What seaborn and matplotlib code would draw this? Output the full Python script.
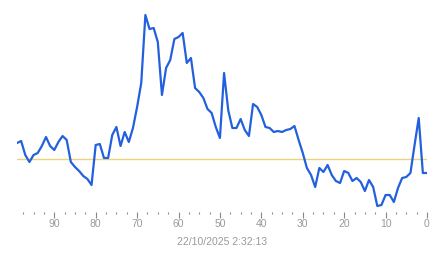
import matplotlib
matplotlib.use("Agg")
import matplotlib.pyplot as plt
import seaborn as sns
import pandas as pd
from matplotlib.ticker import MultipleLocator

# seconds ago (x) and measured value (y)
seconds_ago = list(range(99, -1, -1))
values = [69, 71, 57, 50, 57, 59, 66, 75, 66, 62,
          70, 76, 72, 50, 45, 41, 36, 33, 27, 67,
          68, 54, 54, 77, 85, 66, 80, 70, 84, 105,
          129, 197, 183, 184, 170, 117, 144, 152, 173, 175,
          179, 149, 154, 124, 120, 114, 103, 99, 85, 74,
          139, 102, 84, 84, 93, 82, 76, 108, 105, 97,
          85, 84, 80, 81, 80, 82, 83, 86, 72, 59,
          44, 37, 25, 44, 40, 47, 37, 31, 29, 41,
          39, 31, 34, 30, 21, 32, 25, 6, 7, 17,
          17, 10, 24, 34, 35, 39, 67, 94, 39, 39]
reference_level = 53
tick_values = [90, 80, 70, 60, 50, 40, 30, 20, 10, 0]
tick_labels = [str(t) for t in tick_values]
timestamp = "22/10/2025 2:32:13"

sns.set_theme(style="white")
plt.rcParams['font.family'] = ['Liberation Sans', 'DejaVu Sans']

df = pd.DataFrame({"ago": seconds_ago, "value": values})

fig = plt.figure(figsize=(4.43, 2.58), dpi=100)
ax = fig.add_axes([17 / 443, (258 - 212) / 258, 410 / 443, 200 / 258])

ax.axhline(reference_level, color="#ecd27f", lw=1.0, zorder=1)
sns.lineplot(data=df, x="ago", y="value", ax=ax, color="#2360dd", lw=1.6, zorder=2)

ax.set_xlim(99, 0)
ax.set_ylim(0, 200)
for s in ax.spines.values():
    s.set_visible(False)
ax.set_yticks([])
ax.set_ylabel("")
ax.set_xticks(tick_values)
ax.set_xticklabels(tick_labels)
ax.xaxis.set_minor_locator(MultipleLocator(2.5))
ax.tick_params(axis="x", which="major", direction="out", length=4, width=0.8,
               color="#888888", labelcolor="#999999", labelsize=7.5, pad=1,
               bottom=True)
ax.tick_params(axis="x", which="minor", direction="out", length=1.5, width=0.8,
               color="#888888", bottom=True)
ax.set_xlabel(timestamp, color="#999999", fontsize=7.5, labelpad=5.5)

fig.savefig("out.png", dpi=100)
